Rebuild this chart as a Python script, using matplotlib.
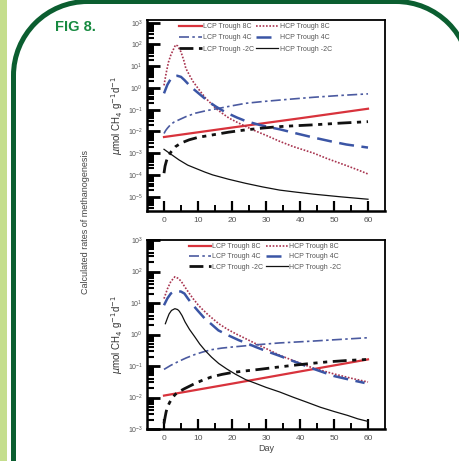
import numpy as np
import matplotlib
matplotlib.use("Agg")
import matplotlib.pyplot as plt
from matplotlib.patches import PathPatch, Rectangle
from matplotlib.path import Path
from matplotlib.transforms import IdentityTransform
from matplotlib.ticker import FixedLocator, LogFormatterSciNotation

plt.rcParams['font.family'] = ['Liberation Sans', 'DejaVu Sans']

# ---- series: top panel ----
top_lcp8_day = [0, 20, 40, 60]
top_lcp8_val = [5.5e-3, 1.5e-2, 4.0e-2, 0.11]
top_hcp8_day = [0, 0.6, 1.3, 2.0, 2.7, 3.4, 4, 5, 6, 6.4, 7.5, 8.5, 9.3, 10.5, 12.3, 14,
                15.2, 17, 19.2, 22, 26.1, 30, 34, 38, 44, 48, 53.6, 57, 60]
top_hcp8_val = [1.3, 4.5, 15, 32, 56, 95, 85, 45, 15, 8, 3.8, 2.0, 1.35, 0.75, 0.33, 0.18,
                0.115, 0.07, 0.04, 0.024, 0.0118, 6.6e-3, 3.5e-3, 2.0e-3, 1.0e-3, 5.6e-4,
                2.7e-4, 1.7e-4, 1.1e-4]
top_lcp4_day = [0, 0.5, 1, 2, 3, 4.4, 6.5, 9.3, 12.5, 16.2, 20, 24, 29, 34, 39, 44, 52, 60]
top_lcp4_val = [8e-3, 0.011, 0.014, 0.021, 0.027, 0.034, 0.048, 0.069, 0.09, 0.115, 0.15,
                0.195, 0.235, 0.275, 0.32, 0.37, 0.45, 0.53]
top_hcp4_day = [0, 1, 2, 3, 3.9, 5, 6, 7.4, 9, 11.3, 13, 15.2, 17, 19.2, 21.5, 24, 28, 31,
                34, 39, 44, 49, 53.6, 57, 60]
top_hcp4_val = [0.56, 1.4, 2.6, 3.4, 3.6, 3.2, 2.3, 1.35, 0.8, 0.4, 0.24, 0.14, 0.095, 0.063,
                0.043, 0.030, 0.020, 0.0155, 0.0125, 8e-3, 5.2e-3, 3.5e-3, 2.5e-3, 2.1e-3,
                1.8e-3]
top_lcpm2_day = [0, 0.3, 0.7, 1, 1.5, 2, 2.7, 3.4, 5, 7.4, 10, 14.3, 19, 24, 29, 34, 39, 44,
                 52, 60]
top_lcpm2_val = [1.2e-4, 2.5e-4, 4.3e-4, 5.8e-4, 8.2e-4, 1.1e-3, 1.5e-3, 2.0e-3, 2.9e-3,
                 4.1e-3, 5.3e-3, 6.9e-3, 9.2e-3, 0.0117, 0.0142, 0.0166, 0.0183, 0.020,
                 0.024, 0.028]
top_hcpm2_day = [0, 2, 4.4, 7, 9.3, 12, 14.3, 19, 24, 29, 34, 39, 44, 52, 60]
top_hcpm2_val = [1.5e-3, 9e-4, 4.9e-4, 2.8e-4, 2.0e-4, 1.35e-4, 1.0e-4, 6.3e-5, 4.1e-5,
                 2.8e-5, 2.0e-5, 1.6e-5, 1.3e-5, 9.8e-6, 7.6e-6]

# ---- series: bottom panel ----
bot_lcp8_day = [0, 20, 40, 60]
bot_lcp8_val = [0.0115, 0.0275, 0.067, 0.162]
bot_hcp8_day = [0, 1, 2, 3.2, 4, 5, 6, 7.2, 8.5, 10, 11.1, 13, 16.1, 18.5, 21, 24, 27, 30,
                34, 39, 44, 50, 55, 60]
bot_hcp8_val = [13.8, 28, 48, 68, 62, 50, 34, 22, 14, 8.8, 6.6, 4.2, 2.2, 1.5, 1.07, 0.74,
                0.51, 0.36, 0.22, 0.135, 0.085, 0.056, 0.041, 0.031]
bot_lcp4_day = [0, 2, 4, 6.5, 9, 11.5, 14, 17, 20, 27, 34, 44, 52, 60]
bot_lcp4_val = [0.078, 0.105, 0.135, 0.18, 0.23, 0.28, 0.33, 0.37, 0.40, 0.47, 0.54, 0.62,
                0.70, 0.79]
bot_hcp4_day = [0, 1, 2, 3, 4, 5, 6, 7, 8, 10, 12, 14, 16, 19, 22, 24.5, 27, 30, 34, 39,
                44, 50, 55, 59]
bot_hcp4_val = [8.5, 14, 20, 23, 24, 23, 20, 14, 10, 5.6, 3.2, 2.1, 1.35, 0.93, 0.66, 0.52,
                0.40, 0.30, 0.21, 0.13, 0.081, 0.048, 0.036, 0.029]
bot_lcpm2_day = [0, 0.3, 0.6, 1, 1.7, 2.5, 3.3, 4.2, 6, 9, 11.5, 14, 17, 20, 24, 28, 33, 38,
                 43, 48, 54, 60]
bot_lcpm2_val = [1.5e-3, 2.3e-3, 3.4e-3, 5e-3, 7.1e-3, 9.8e-3, 0.0125, 0.0148, 0.019,
                 0.0275, 0.036, 0.045, 0.054, 0.062, 0.07, 0.078, 0.091, 0.105, 0.12, 0.135,
                 0.15, 0.162]
bot_hcpm2_day = [0.4, 1, 1.5, 2.2, 3.2, 4, 4.5, 5.3, 6.2, 7.5, 9.1, 10.5, 12.1, 14, 16.1,
                 18.5, 21, 24, 27, 30, 34, 38, 42, 46, 50, 54, 57, 60]
bot_hcpm2_val = [2.2, 3.3, 4.5, 5.8, 6.6, 6.2, 5.5, 4.0, 2.5, 1.45, 0.83, 0.5, 0.31, 0.19,
                 0.12, 0.08, 0.055, 0.037, 0.028, 0.021, 0.015, 0.0102, 7.1e-3, 4.9e-3,
                 3.6e-3, 2.7e-3, 2.1e-3, 1.74e-3]

labels = ["LCP Trough 8C", "HCP Trough 8C", "LCP Trough 4C",
          "HCP Trough 4C", "LCP Trough -2C", "HCP Trough -2C"]

styles = [
    dict(color="#d8333c", lw=1.6, ls="-"),
    dict(color="#a8344f", lw=1.2, ls=(0, (1, 1))),
    dict(color="#4b5aa0", lw=1.2, ls=(0, (6, 2, 1.5, 2))),
    dict(color="#3b55a5", lw=1.8, ls=(0, (6, 3))),
    dict(color="#111111", lw=2.0, ls=(0, (5, 2, 1.5, 2, 1.5, 2))),
    dict(color="#111111", lw=0.9, ls="-"),
]

top_series = [(top_lcp8_day, top_lcp8_val), (top_hcp8_day, top_hcp8_val),
              (top_lcp4_day, top_lcp4_val), (top_hcp4_day, top_hcp4_val),
              (top_lcpm2_day, top_lcpm2_val), (top_hcpm2_day, top_hcpm2_val)]
bot_series = [(bot_lcp8_day, bot_lcp8_val), (bot_hcp8_day, bot_hcp8_val),
              (bot_lcp4_day, bot_lcp4_val), (bot_hcp4_day, bot_hcp4_val),
              (bot_lcpm2_day, bot_lcpm2_val), (bot_hcpm2_day, bot_hcpm2_val)]

W, H = 459, 461
fig = plt.figure(figsize=(W / 100, H / 100), dpi=100)
fig.patch.set_facecolor("white")

# page decoration: light strip and rounded green frame (pixel coordinates)
fig.add_artist(Rectangle((0, 0), 6.5, H, transform=IdentityTransform(),
                         facecolor="#c5de8d", edgecolor="none"))


def frame_path(x0, x1, ytop, r):
    # left side up, rounded corner, top edge, rounded corner, right side down
    la = Path.arc(90, 180)
    ra = Path.arc(0, 90)
    la_v = la.vertices[::-1] * r + [x0 + r, ytop - r]
    ra_v = ra.vertices[::-1] * r + [x1 - r, ytop - r]
    verts = [[x0, -20]] + list(la_v) + list(ra_v) + [[x1, -20]]
    codes = ([Path.MOVETO] + [Path.LINETO] + [Path.CURVE4] * (len(la_v) - 1)
             + [Path.LINETO] + [Path.CURVE4] * (len(ra_v) - 1) + [Path.LINETO])
    return Path(np.array(verts), codes)


fig.add_artist(PathPatch(frame_path(13.5, 470, H - 1.5, 74), transform=IdentityTransform(),
                         fill=False, edgecolor="#0b5e30", lw=3.6))

fig.text(55 / W, 1 - 27 / H, "FIG 8.", color="#178a40", fontsize=10.5,
         fontweight="bold", va="center", ha="left")

fig.text(85 / W, 1 - 222 / H, "Calculated rates of methanogenesis", rotation=90,
         color="#444444", fontsize=6.5, va="center", ha="center")

tick_gray = "#555555"


def setup(ax, ylo, yhi, decades):
    ax.set_yscale("log")
    ax.set_xlim(-5, 65)
    ax.set_ylim(ylo, yhi)
    ax.yaxis.set_major_locator(FixedLocator([10.0 ** k for k in decades]))
    minors = [s * 10.0 ** k for k in range(decades[0] - 1, decades[-1] + 1) for s in range(2, 10)]
    ax.yaxis.set_minor_locator(FixedLocator(minors))
    ax.yaxis.set_major_formatter(LogFormatterSciNotation())
    ax.yaxis.set_minor_formatter(plt.NullFormatter())
    ax.xaxis.set_major_locator(FixedLocator([0, 10, 20, 30, 40, 50, 60]))
    ax.xaxis.set_minor_locator(FixedLocator([5, 15, 25, 35, 45, 55]))
    ax.tick_params(axis="y", which="major", direction="in", length=9, width=2.0,
                   labelsize=5, labelcolor=tick_gray, pad=3)
    ax.tick_params(axis="y", which="minor", direction="in", length=5, width=1.5)
    ax.tick_params(axis="x", which="major", direction="in", length=7, width=1.6,
                   labelsize=6, labelcolor=tick_gray, pad=4)
    ax.tick_params(axis="x", which="minor", direction="in", length=4, width=1.4)
    for side in ("left", "bottom"):
        ax.spines[side].set_linewidth(1.8)
    for side in ("top", "right"):
        ax.spines[side].set_linewidth(1.3)
    ax.set_ylabel(r"$\mu$mol CH$_4$ g$^{-1}$d$^{-1}$", fontsize=7, color="#333333",
                  labelpad=2)


def draw(ax, series, anchor, spacing):
    handles = []
    for (d, v), st, lab in zip(series, styles, labels):
        ln, = ax.plot(d, v, label=lab, solid_joinstyle="round", **st)
        handles.append(ln)
    order = [0, 2, 4, 1, 3, 5]
    ax.legend([handles[i] for i in order], [labels[i] for i in order], ncol=2,
              loc="upper left", bbox_to_anchor=anchor, frameon=False,
              fontsize=5, labelcolor="#555555", handlelength=3.2,
              handletextpad=0.2, columnspacing=0.3, labelspacing=spacing,
              borderaxespad=0, borderpad=0.2)


left = 147 / W
width = 238 / W
ax1 = fig.add_axes([left, 1 - 211 / H, width, 191 / H])
setup(ax1, 10 ** -5.66, 10 ** 3.12, list(range(-5, 4)))
draw(ax1, top_series, (0.13, 0.99), 0.6)

ax2 = fig.add_axes([left, 1 - 429 / H, width, 189 / H])
setup(ax2, 1e-3, 1e3, list(range(-3, 4)))
draw(ax2, bot_series, (0.17, 0.99), 0.45)
ax2.set_xlabel("Day", fontsize=6.5, color="#444444", labelpad=2)

fig.savefig("out.png", dpi=100, facecolor="white")
